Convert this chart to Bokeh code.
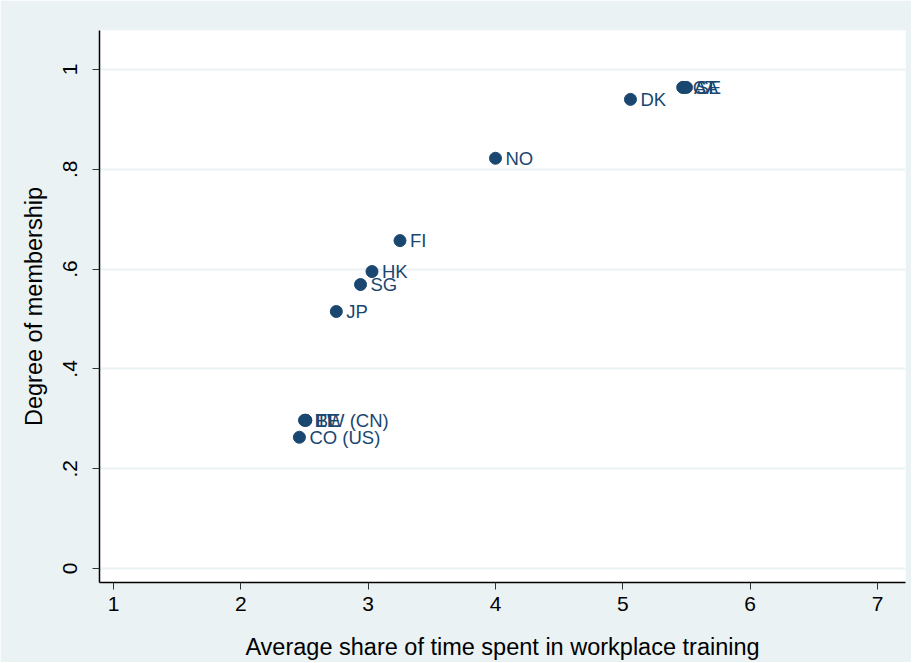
from bokeh.plotting import figure
from bokeh.models import ColumnDataSource, FixedTicker, Range1d
from bokeh.core.properties import value
from bokeh.embed import file_html
from bokeh.resources import INLINE

countries = ["CO (US)", "EE", "BE", "TW (CN)", "JP", "SG", "HK", "FI", "NO", "DK", "CA", "AT", "SE"]
training = [2.46, 2.50, 2.51, 2.51, 2.75, 2.94, 3.03, 3.25, 4.00, 5.06, 5.47, 5.48, 5.50]
membership = [0.263, 0.297, 0.297, 0.297, 0.515, 0.569, 0.595, 0.657, 0.822, 0.940, 0.964, 0.964, 0.964]

y_ticks = [0, 0.2, 0.4, 0.6, 0.8, 1.0]
y_tick_labels = ["0", ".2", ".4", ".6", ".8", "1"]
x_ticks = [1, 2, 3, 4, 5, 6, 7]

BG = "#EAF2F3"
NAVY = "#1A476F"
FONT = "Liberation Sans"

src = ColumnDataSource(dict(x=training, y=membership, label=countries))

p = figure(width=911, height=662, output_backend="svg", toolbar_location=None,
           x_range=Range1d(0.89, 7.22), y_range=Range1d(-0.028, 1.078),
           min_border_left=99, min_border_right=6, min_border_top=30, min_border_bottom=71)
p.border_fill_color = BG
p.background_fill_color = "white"
p.outline_line_color = None

p.scatter("x", "y", source=src, size=12, color=NAVY)
p.text("x", "y", text="label", source=src, x_offset=10, text_baseline="middle",
       text_font=value(FONT), text_font_size="18.5px", text_color=NAVY)

p.xgrid.visible = False
p.ygrid.ticker = FixedTicker(ticks=y_ticks)
p.ygrid.grid_line_color = BG
p.ygrid.grid_line_width = 2

p.xaxis.ticker = FixedTicker(ticks=x_ticks)
p.yaxis.ticker = FixedTicker(ticks=y_ticks)
p.yaxis.major_label_overrides = {t: l for t, l in zip(y_ticks, y_tick_labels)}
p.yaxis.major_label_orientation = "vertical"

for ax in (p.xaxis[0], p.yaxis[0]):
    ax.axis_line_color = "black"
    ax.axis_line_width = 1.5
    ax.major_tick_line_color = "#333333"
    ax.major_tick_in = 0
    ax.major_tick_out = 7
    ax.minor_tick_line_color = None
    ax.major_label_text_font = FONT
    ax.major_label_text_font_size = "21px"
    ax.major_label_text_color = "black"
    ax.axis_label_text_font = FONT
    ax.axis_label_text_font_size = "23.5px"
    ax.axis_label_text_font_style = "normal"
    ax.axis_label_text_color = "black"

p.xaxis.axis_label = "Average share of time spent in workplace training"
p.yaxis.axis_label = "Degree of membership"
p.xaxis.major_label_standoff = 7
p.yaxis.major_label_standoff = 15
p.xaxis.axis_label_standoff = 20
p.yaxis.axis_label_standoff = 14

open("out.html", "w").write(file_html(p, INLINE))
